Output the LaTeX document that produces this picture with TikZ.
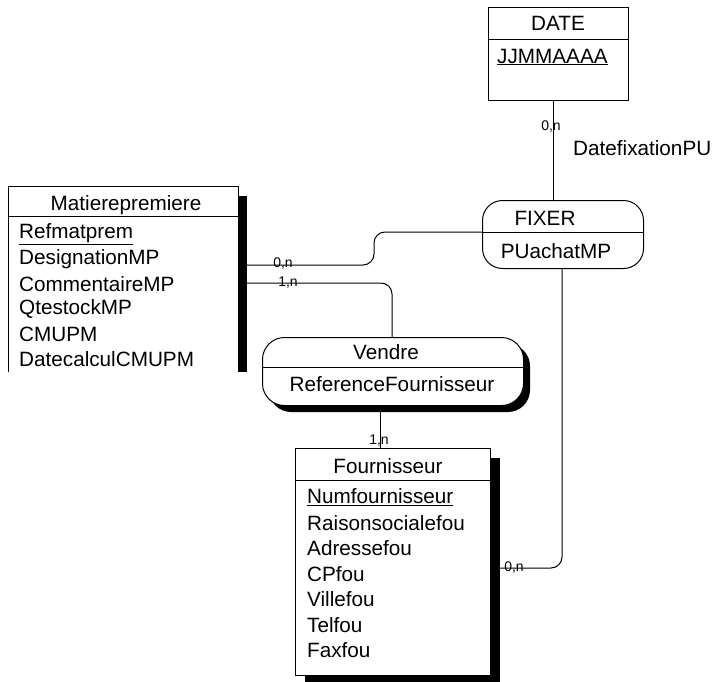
\documentclass[tikz,border=0pt]{standalone}
\usepackage{fontspec}
\setmainfont{Liberation Sans}
\begin{document}
\begin{tikzpicture}[x=1pt,y=-1pt,
  txt/.style={font=\fontsize{20.7}{24}\selectfont, inner sep=0pt},
  attr/.style={txt, anchor=west},
  card/.style={font=\fontsize{14}{16}\selectfont, inner sep=0pt},
  ent/.style={draw, fill=white, line width=1pt, anchor=north west, inner sep=0pt},
  asso/.style={draw, fill=white, line width=1pt, anchor=north west, inner sep=0pt, rounded corners=20pt},
  sep/.style={line width=1pt},
  link/.style={line width=1pt, rounded corners=11pt}]
\useasboundingbox (0,0) rectangle (712,682);

% ---------- DATE ----------
\node[ent, minimum width=140pt, minimum height=93pt] (date) at (488,7) {};
\draw[sep] (488,40) -- (628,40);
\node[txt] (datet) at (558,23) {DATE};
\node[attr] (datea) at (497,57) {\underline{JJMMAAAA}};

% ---------- FIXER ----------
\node[asso, minimum width=161pt, minimum height=68pt] (fixer) at (482,200) {};
\draw[sep] (482,232) -- (643,232);
\node[txt] (fixert) at (545,218) {FIXER};
\node[txt] (fixera) at (556,251) {PUachatMP};

% ---------- Matierepremiere (cut off at bottom) ----------
\fill (238,196) rectangle (247,372);
\path (8,186) node[anchor=north west, minimum width=230pt, minimum height=186pt, inner sep=0pt] (mat) {};
\draw[sep] (8,372) -- (8,186) -- (238,186) -- (238,372);
\draw[sep] (8,216) -- (238,216);
\node[txt] (matt) at (126,205) {Matierepremiere};
\node[attr] (m1) at (19,234) {\underline{Refmatprem}};
\node[attr] (m2) at (19,259) {DesignationMP};
\node[attr] (m3) at (19,284) {CommentaireMP};
\node[attr] (m4) at (19,309) {QtestockMP};
\node[attr] (m5) at (19,334) {CMUPM};
\node[attr] (m6) at (19,359) {DatecalculCMUPM};

% ---------- Vendre ----------
\fill[rounded corners=22pt] (269,344) rectangle (530,412);
\node[asso, rounded corners=22pt, minimum width=261pt, minimum height=68pt] (vendre) at (262,337) {};
\draw[sep] (262,367) -- (523,367);
\node[txt] (vendret) at (386,352) {Vendre};
\node[txt] (vendrea) at (392,384) {ReferenceFournisseur};

% ---------- Fournisseur ----------
\fill (490,458) rectangle (500,682);
\fill (305,675) rectangle (500,682);
\node[ent, minimum width=195pt, minimum height=227pt] (four) at (295,448) {};
\draw[sep] (295,480) -- (490,480);
\node[txt] (fourt) at (388,466) {Fournisseur};
\node[attr] (f1) at (307,497) {\underline{Numfournisseur}};
\node[attr] (f2) at (307,523) {Raisonsocialefou};
\node[attr] (f3) at (307,548) {Adressefou};
\node[attr] (f4) at (307,574) {CPfou};
\node[attr] (f5) at (307,599) {Villefou};
\node[attr] (f6) at (307,625) {Telfou};
\node[attr] (f7) at (307,650) {Faxfou};

% ---------- connectors ----------
\coordinate (d1) at (553,100);
\coordinate (x1) at (553,200);
\draw[sep] (d1) -- (x1);
\node[card] (c1) at (551,127) {0,n};
\node[txt, anchor=west] (role) at (573,148) {DatefixationPU};

\coordinate (ma) at (247,265);
\coordinate (xa) at (482,232);
\draw[link] (ma) -- (374,265) -- (374,232) -- (xa);
\node[card] (c2) at (283,264) {0,n};

\coordinate (mb) at (247,283);
\coordinate (va) at (392,337);
\draw[link] (mb) -- (392,283) -- (va);
\node[card] (c3) at (288,283) {1,n};

\coordinate (vb) at (380,412);
\coordinate (fa) at (380,448);
\draw[sep] (vb) -- (fa);
\node[card] (c4) at (379,441) {1,n};

\coordinate (xb) at (562,268);
\coordinate (fb) at (500,568);
\draw[link] (xb) -- (562,568) -- (fb);
\node[card] (c5) at (514,568) {0,n};
\end{tikzpicture}
\end{document}
